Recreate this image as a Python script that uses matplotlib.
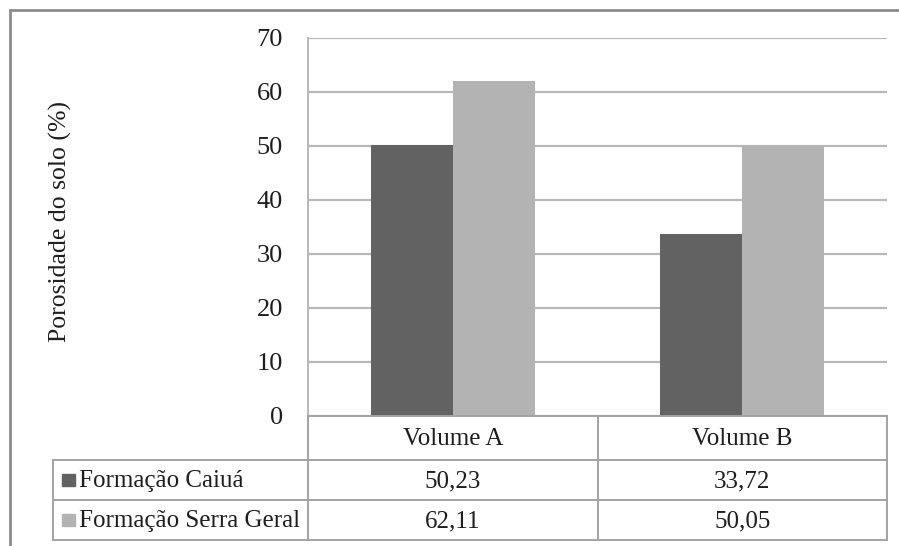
import matplotlib.pyplot as plt
from matplotlib.lines import Line2D
from matplotlib.patches import Rectangle

plt.rcParams['font.family'] = ['Liberation Serif', 'DejaVu Serif']

categories = ['Volume A', 'Volume B']
series_names = ['Formação Caiuá', 'Formação Serra Geral']
caiua = [50.23, 33.72]
serra_geral = [62.11, 50.05]
y_ticks = [0, 10, 20, 30, 40, 50, 60, 70]

colors = ['#626262', '#b3b3b3']
grid_color = '#b8b8b8'
line_color = '#a3a3a3'
text_color = '#1e1e1e'
fs = 18

W, H = 899, 546
fig = plt.figure(figsize=(W / 100, H / 100), dpi=100)


def fx(px):
    return px / W


def fy(py):
    return 1 - py / H


# outer frame (runs off the right and bottom edges)
fig.add_artist(Rectangle((fx(10), fy(560)), fx(920), fy(10) - fy(560),
                         transform=fig.transFigure, fill=False,
                         edgecolor='#8c8c8c', linewidth=2))

left, right, top, bottom = 308, 887, 38, 416
ax = fig.add_axes([fx(left), fy(bottom), fx(right - left), fy(top) - fy(bottom)])

width = 0.283
x = range(len(categories))
ax.bar([i - width / 2 for i in x], caiua, width, color=colors[0], zorder=3)
ax.bar([i + width / 2 for i in x], serra_geral, width, color=colors[1], zorder=3)

ax.set_xlim(-0.5, len(categories) - 0.5)
ax.set_ylim(0, 70)
ax.set_yticks(y_ticks)
ax.set_yticklabels([str(t) for t in y_ticks], fontsize=fs + 1, color=text_color)
ax.tick_params(axis='y', length=0, pad=18)
ax.set_xticks([])
ax.yaxis.grid(True, color=grid_color, linewidth=1.6, zorder=0)
for s in ['top', 'right', 'bottom']:
    ax.spines[s].set_visible(False)
ax.spines['left'].set_color(grid_color)
ax.spines['left'].set_linewidth(1.4)

fig.text(fx(60), fy(222), 'Porosidade do solo (%)', rotation=90,
         ha='center', va='center', fontsize=fs + 0.5, color=text_color)

# data table under the plot
row_y = [416, 460, 500, 540]
tab_left = 53


def hline(y, x0, x1):
    fig.add_artist(Line2D([fx(x0), fx(x1)], [fy(y), fy(y)], transform=fig.transFigure,
                          color=line_color, linewidth=1.4))


def vline(x0, y0, y1):
    fig.add_artist(Line2D([fx(x0), fx(x0)], [fy(y0), fy(y1)], transform=fig.transFigure,
                          color=line_color, linewidth=1.4))


hline(row_y[0], left, right)
for y in row_y[1:]:
    hline(y, tab_left, right)
vline(tab_left, row_y[1], row_y[3])
bounds = [left + (right - left) * k / len(categories) for k in range(len(categories) + 1)]
for b in bounds:
    vline(b, row_y[0], row_y[3])

for i, cat in enumerate(categories):
    cx = (bounds[i] + bounds[i + 1]) / 2
    fig.text(fx(cx), fy((row_y[0] + row_y[1]) / 2 + 1), cat, ha='center', va='center',
             fontsize=fs, color=text_color)
    for r, vals in enumerate([caiua, serra_geral]):
        label = f'{vals[i]:.2f}'.replace('.', ',')
        fig.text(fx(cx), fy((row_y[r + 1] + row_y[r + 2]) / 2 + 1), label,
                 ha='center', va='center', fontsize=fs, color=text_color)

for r, name in enumerate(series_names):
    yc = (row_y[r + 1] + row_y[r + 2]) / 2
    fig.add_artist(Rectangle((fx(62), fy(yc + 6)), fx(13), fy(yc - 6) - fy(yc + 6),
                             transform=fig.transFigure, color=colors[r]))
    fig.text(fx(79), fy(yc + 1), name, ha='left', va='center',
             fontsize=fs, color=text_color)

fig.savefig('out.png', dpi=100, facecolor='white')
